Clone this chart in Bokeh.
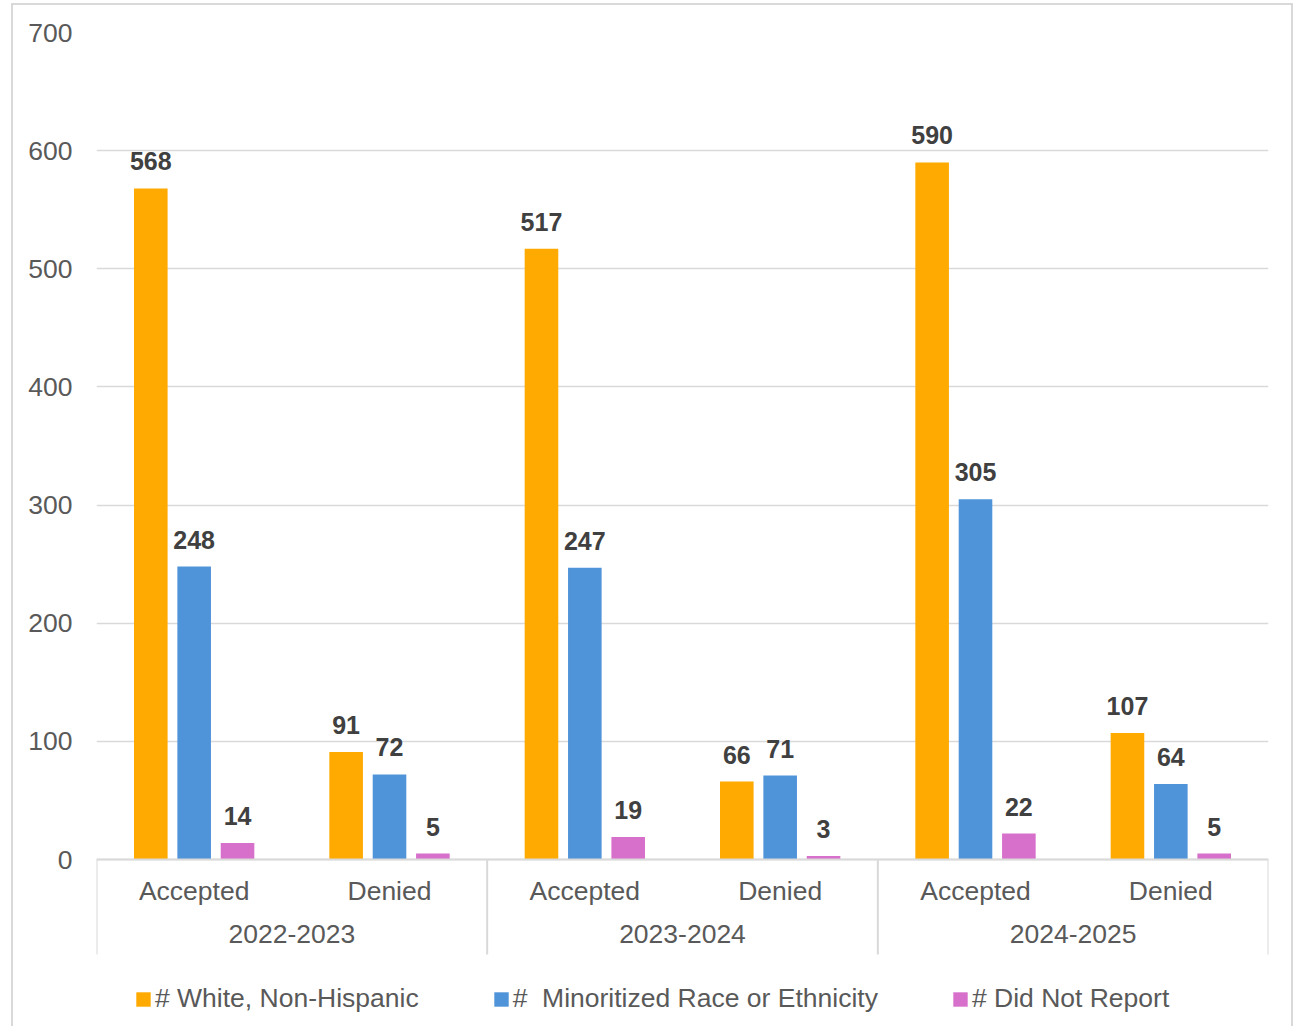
from bokeh.plotting import figure
from bokeh.models import FactorRange, ColumnDataSource, LabelSet, Legend, LegendItem, Range1d
from bokeh.transform import dodge
from bokeh.core.properties import value
from bokeh.embed import file_html
from bokeh.resources import INLINE

years = ["2022-2023", "2023-2024", "2024-2025"]
statuses = ["Accepted", "Denied"]
series_names = ["# White, Non-Hispanic", "#  Minoritized Race or Ethnicity", "# Did Not Report"]
white = [568, 91, 517, 66, 590, 107]
minoritized = [248, 72, 247, 71, 305, 64]
not_reported = [14, 5, 19, 3, 22, 5]
colors = ["#FFAA00", "#4F94D9", "#D770CA"]
y_ticks = [0, 100, 200, 300, 400, 500, 600, 700]

# layout constants (pixels)
FRAME_W, FRAME_H = 1172, 985
PX_PER_UNIT = 827 / 700.0
Y_MIN = 700 - FRAME_H / PX_PER_UNIT
SEP_BOTTOM = -95 / PX_PER_UNIT

factors = [(y, s) for y in years for s in statuses]
src = ColumnDataSource(dict(x=factors, white=white, minoritized=minoritized, not_reported=not_reported,
                            wl=[str(v) for v in white], ml=[str(v) for v in minoritized],
                            nl=[str(v) for v in not_reported]))

FONT = "Liberation Sans"
p = figure(x_range=FactorRange(*factors, factor_padding=0, group_padding=0, range_padding=0),
           y_range=Range1d(Y_MIN, 700), frame_width=FRAME_W, frame_height=FRAME_H,
           output_backend="svg", toolbar_location=None,
           min_border_left=83, min_border_right=23, min_border_top=27, min_border_bottom=12)
p.outline_line_color = None
p.styles = {"border": "2px solid #d9d9d9", "margin-left": "11px", "margin-top": "3px"}

cols = ["white", "minoritized", "not_reported"]
labs = ["wl", "ml", "nl"]
offsets = [-0.222, 0.0, 0.222]
renderers = []
for col, lab, off, c in zip(cols, labs, offsets, colors):
    r = p.vbar(x=dodge("x", off, range=p.x_range), top=col, width=0.172, source=src,
               fill_color=c, line_color=None)
    renderers.append(r)
    p.add_layout(LabelSet(x=dodge("x", off, range=p.x_range), y=col, text=lab, source=src,
                          text_align="center", text_baseline="alphabetic", y_offset=18,
                          text_font=value(FONT), text_font_size="25px", text_font_style="bold",
                          text_color="#404040"))

# group separators at the edges of each year group
sep_x = [(y, statuses[0]) for y in years] + [(years[-1], statuses[-1])]
sep_off = [-0.5] * len(years) + [0.5]
for fx, off in zip(sep_x, sep_off):
    p.segment(x0=dodge("x", off, range=p.x_range), y0=0, x1=dodge("x", off, range=p.x_range), y1=SEP_BOTTOM,
              source=ColumnDataSource(dict(x=[fx])), line_color="#d9d9d9", line_width=2)

p.yaxis.ticker = y_ticks
p.yaxis.axis_line_color = None
p.yaxis.major_tick_line_color = None
p.yaxis.major_tick_out = 0
p.yaxis.minor_tick_line_color = None
p.yaxis.major_label_text_font = FONT
p.yaxis.major_label_text_font_size = "26.5px"
p.yaxis.major_label_text_color = "#595959"
p.yaxis.major_label_standoff = 24

p.ygrid.grid_line_color = "#d9d9d9"
p.ygrid.grid_line_width = 1.5
p.xgrid.grid_line_color = None

xa = p.xaxis[0]
xa.fixed_location = 0
xa.axis_line_color = "#d9d9d9"
xa.axis_line_width = 2
xa.major_tick_line_color = None
xa.major_tick_out = 0
xa.major_label_text_font = FONT
xa.major_label_text_font_size = "26.5px"
xa.major_label_text_color = "#595959"
xa.major_label_text_line_height = 1.9
xa.major_label_standoff = 16
xa.group_text_font = FONT
xa.group_text_font_size = "26.5px"
xa.group_text_color = "#595959"
xa.group_text_font_style = "normal"
xa.separator_line_color = None

legend = Legend(items=[LegendItem(label=n, renderers=[r]) for n, r in zip(series_names, renderers)],
                orientation="horizontal", location=(38, 3),
                label_text_font=FONT, label_text_font_size="26.5px", label_text_color="#595959",
                glyph_width=18, glyph_height=18, label_standoff=3, spacing=73,
                border_line_color=None, background_fill_alpha=0, margin=0, padding=0)
p.add_layout(legend)

open("out.html", "w").write(file_html(p, INLINE))
